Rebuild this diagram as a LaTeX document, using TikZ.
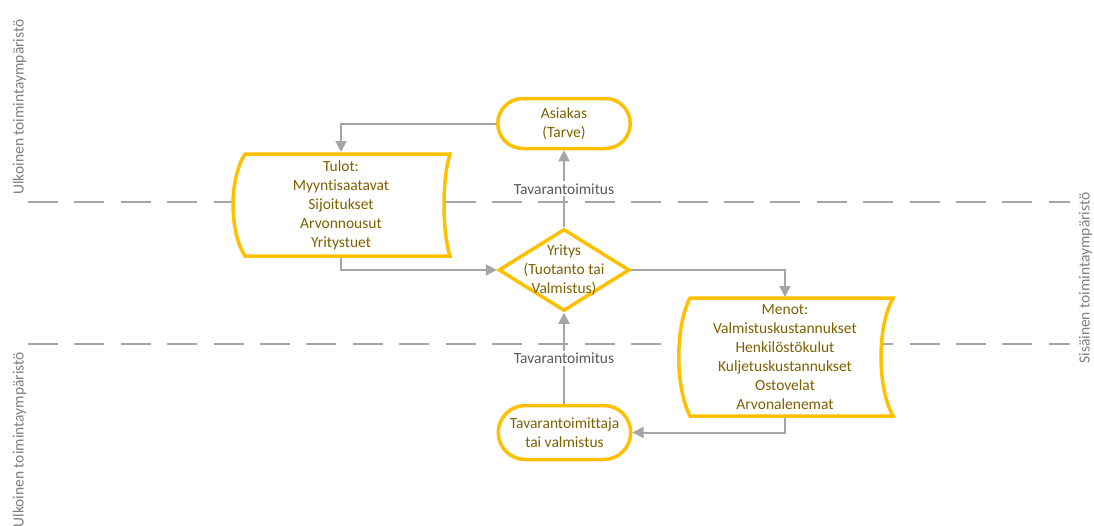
\documentclass[tikz,border=0pt]{standalone}
\usepackage{fontspec}
\setmainfont{Carlito}[Ligatures={NoCommon}]
\usetikzlibrary{arrows.meta,shapes.geometric,calc}
\definecolor{gold}{HTML}{FFC000}
\definecolor{goldtext}{HTML}{7F6000}
\definecolor{conn}{HTML}{A5A5A5}
\definecolor{labeltext}{HTML}{595959}
\definecolor{sidetext}{HTML}{7F7F7F}

\begin{document}
\begin{tikzpicture}[x=1pt,y=-1pt,
  font=\fontsize{15.5}{19}\selectfont,
  boxtext/.style={text=goldtext, align=center, inner sep=0pt, outer sep=0pt},
  terminal/.style={draw=gold, line width=3.5pt, fill=white, rounded corners=#1,
    text=goldtext, align=center, inner sep=0pt, minimum width=132.5pt},
  decision/.style={draw=gold, line width=3.5pt, fill=white, diamond, inner sep=0pt,
    minimum width=131pt, minimum height=82pt},
  outline/.style={draw=gold, line width=3.5pt, fill=white},
  zone/.style={draw=conn, line width=2pt, dash pattern=on 30pt off 16.4pt},
  flow/.style={draw=conn, line width=2pt, -{Triangle[width=11pt,length=11pt]}},
  flowlabel/.style={fill=white, text=labeltext, inner sep=2pt},
  zonelabel/.style={text=sidetext, rotate=90, inner sep=0pt},
]
% page
\fill[white] (0,0) rectangle (1094,525);
\useasboundingbox (0,0) rectangle (1094,525);

% zone dividers
\coordinate (z1a) at (28,201.5);
\coordinate (z1b) at (1070,201.5);
\coordinate (z2a) at (28,344);
\coordinate (z2b) at (1070,344);
\draw[zone] (z1a) -- (z1b);
\draw[zone] (z2a) -- (z2b);

% zone labels
\node[zonelabel, anchor=base] (outerTop) at (23.5,107) {Ulkoinen toimintaympäristö};
\node[zonelabel, anchor=base east] (outerBottom) at (23.5,352) {Ulkoinen toimintaympäristö};
\node[zonelabel, anchor=base] (inner) at (1089.5,278) {Sisäinen toimintaympäristö};

% customer and supplier
\node[terminal=25pt, minimum height=50pt] (asiakas) at (564,123.5) {Asiakas\\(Tarve)};
\node[terminal=27pt, minimum height=54pt] (tavara) at (564.5,432.5) {Tavarantoimittaja\\tai valmistus};

% company
\node[decision] (yritys) at (564,270) {};
\node[boxtext] (yritysText) at (564,270) {Yritys\\(Tuotanto tai\\Valmistus)};

% income (stored data shape)
\draw[outline] (245,154) -- (450,154)
  .. controls (442,179) and (442,231) .. (450,256) -- (245,256)
  .. controls (229,231) and (229,179) .. (245,154) -- cycle;
\node[boxtext, minimum height=106pt] (tulot) at (341,205)
  {Tulot:\\Myyntisaatavat\\Sijoitukset\\Arvonnousut\\Yritystuet};

% expenses (stored data shape)
\draw[outline] (690,298) -- (893,298)
  .. controls (877,327) and (877,387) .. (893,416) -- (690,416)
  .. controls (675,387) and (675,327) .. (690,298) -- cycle;
\node[boxtext, minimum height=121pt] (menot) at (785,357.5)
  {Menot:\\Valmistuskustannukset\\Henkilöstökulut\\Kuljetuskustannukset\\Ostovelat\\Arvonalenemat};

% flows
\draw[flow] (asiakas.west) -| (tulot.north);
\draw[flow] (tulot.south) |- (yritys.west);
\draw[flow] (yritys.east) -| (menot.north);
\draw[flow] (menot.south) |- (tavara.east);
\draw[flow] (yritys.north) -- (yritys.north |- asiakas.south)
  node[flowlabel, pos=0.5] (delivOut) {Tavarantoimitus};
\draw[flow] (tavara.north -| yritys.south) -- (yritys.south)
  node[flowlabel, pos=0.5] (delivIn) {Tavarantoimitus};
\end{tikzpicture}
\end{document}
